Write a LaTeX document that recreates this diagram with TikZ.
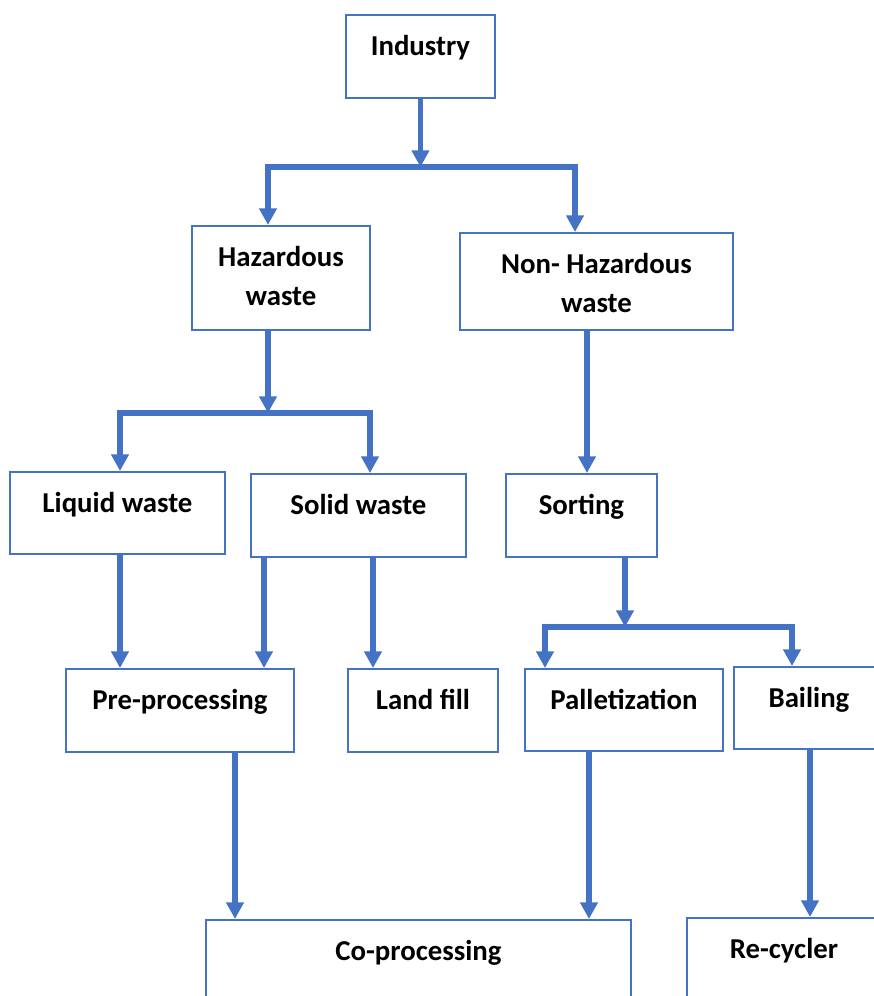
\documentclass[tikz,border=0pt]{standalone}
\usepackage{fontspec}
\setmainfont{Carlito}
\usepackage{tikz}
\usetikzlibrary{arrows.meta}
\definecolor{wblue}{HTML}{4472C4}
\tikzset{>={Triangle[width=9.6pt,length=9.4pt]}}
\tikzset{
  box/.style={draw=wblue, line width=1.1pt, anchor=north west, inner xsep=0pt, inner ysep=0pt,
    text height=0.82cm, font=\bfseries\fontsize{16.4}{22}\selectfont},
  flow/.style={draw=wblue, line width=3pt}
}

\begin{document}
\begin{tikzpicture}[x=0.02cm, y=-0.02cm]
        \useasboundingbox (0,0) rectangle (874,996);
        \clip (0,0) rectangle (874,996);

            % Top and first split
            \node[box, minimum width=2.98cm, text depth=0.84cm] (ind) at (345,14) {Industry};
            \node[box, minimum width=3.56cm, text depth=1.26cm] (haz) at (191,225) {\begin{tabular}[t]{@{}c@{}}Hazardous\\waste\end{tabular}};
            \node[box, minimum width=5.46cm, text depth=1.12cm] (nhaz) at (459,232) {\begin{tabular}[t]{@{}c@{}}Non- Hazardous\\waste\end{tabular}};

            % Second row
            \node[box, minimum width=4.30cm, text depth=0.82cm] (liq) at (9,471) {Liquid waste};
            \node[box, minimum width=4.30cm, text depth=0.84cm] (sol) at (250,473) {Solid waste};
            \node[box, minimum width=3.02cm, text depth=0.84cm] (sort) at (505,473) {Sorting};

            % Third row
            \node[box, minimum width=4.56cm, text depth=0.84cm] (pre) at (65,668) {Pre-processing};
            \node[box, minimum width=3.00cm, text depth=0.84cm] (land) at (347,668) {Land fill};
            \node[box, minimum width=3.96cm, text depth=0.82cm] (pall) at (524,668) {Palletization};
            \node[box, minimum width=3.00cm, text depth=0.82cm] (bail) at (733,666) {Bailing};

            % Bottom row (cut off by the page)
            \node[box, minimum width=8.50cm, text depth=1.40cm] (cop) at (205,919) {Co-processing};
            \node[box, minimum width=3.88cm, text depth=1.40cm] (rec) at (686,917) {Re-cycler};

            % Junction points
            \coordinate (j1) at (417,167);
            \coordinate (j1l) at (268,167);
            \coordinate (j1r) at (575,167);
            \coordinate (j2) at (268,413);
            \coordinate (j2l) at (120,413);
            \coordinate (j2r) at (370,413);
            \coordinate (j3) at (625,627);
            \coordinate (j3l) at (545,627);
            \coordinate (j3r) at (792,627);

            % Industry split
            \draw[flow, ->] (ind.south) -- (ind.south |- j1);
            \draw[flow, <->] (j1l |- haz.north) -- (j1l) -- (j1r) -- (j1r |- nhaz.north);

            % Hazardous split
            \draw[flow, ->] (j2 |- haz.south) -- (j2);
            \draw[flow, <->] (j2l |- liq.north) -- (j2l) -- (j2r) -- (j2r |- sol.north);

            % Non-hazardous to sorting, then split
            \draw[flow, ->] (nhaz.south -| 587,0) -- (sort.north -| 587,0);
            \draw[flow, ->] (j3 |- sort.south) -- (j3);
            \draw[flow, <->] (j3l |- pall.north) -- (j3l) -- (j3r) -- (j3r |- bail.north);

            % Down to third row
            \draw[flow, ->] (liq.south -| 120,0) -- (pre.north -| 120,0);
            \draw[flow, ->] (sol.south -| 264,0) -- (pre.north -| 264,0);
            \draw[flow, ->] (sol.south -| 373,0) -- (land.north -| 373,0);

            % Down to bottom row
            \draw[flow, ->] (pre.south -| 235,0) -- (cop.north -| 235,0);
            \draw[flow, ->] (pall.south -| 589,0) -- (cop.north -| 589,0);
            \draw[flow, ->] (bail.south -| 810,0) -- (rec.north -| 810,0);

        \end{tikzpicture}
\end{document}
